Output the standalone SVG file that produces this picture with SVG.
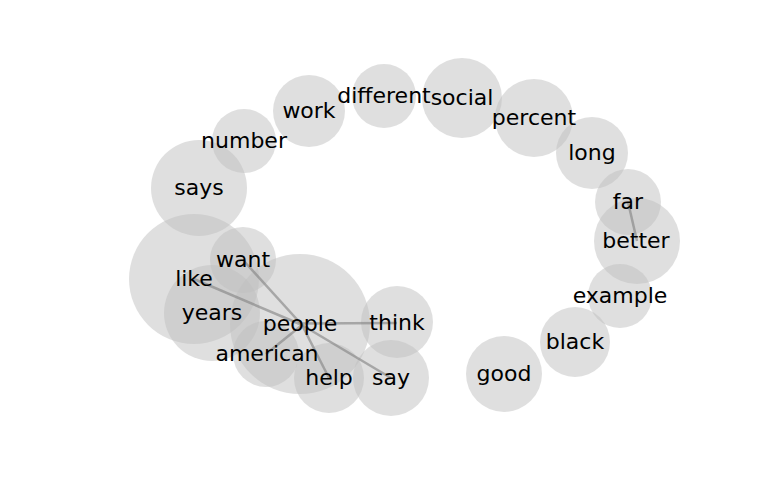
<svg xmlns="http://www.w3.org/2000/svg" width="768" height="500" viewBox="0 0 768 500">
<style>
.node circle{fill:#bfbfbf;fill-opacity:0.5;stroke:none}
.edge{stroke:#808080;stroke-opacity:0.6;stroke-width:2.5;fill:none}
.label{font-family:"DejaVu Sans",sans-serif;font-size:22px;fill:#000;text-anchor:middle;dominant-baseline:central}
</style>
<rect width="768" height="500" fill="#fff"/>
<g id="nodes">
<g id="node-like" class="node"><circle cx="194" cy="279" r="65"/></g>
<g id="node-says" class="node"><circle cx="199" cy="188" r="48"/></g>
<g id="node-number" class="node"><circle cx="244" cy="141" r="32"/></g>
<g id="node-work" class="node"><circle cx="309" cy="111" r="36"/></g>
<g id="node-different" class="node"><circle cx="384" cy="96" r="32"/></g>
<g id="node-social" class="node"><circle cx="462" cy="98" r="40"/></g>
<g id="node-percent" class="node"><circle cx="534" cy="118" r="39"/></g>
<g id="node-long" class="node"><circle cx="592" cy="153" r="36"/></g>
<g id="node-far" class="node"><circle cx="628" cy="202" r="33"/></g>
<g id="node-better" class="node"><circle cx="637" cy="241" r="43"/></g>
<g id="node-example" class="node"><circle cx="620" cy="296" r="32"/></g>
<g id="node-black" class="node"><circle cx="575" cy="342" r="35"/></g>
<g id="node-good" class="node"><circle cx="504" cy="374" r="38"/></g>
<g id="node-years" class="node"><circle cx="212" cy="313" r="48"/></g>
<g id="node-want" class="node"><circle cx="243" cy="260" r="33"/></g>
<g id="node-people" class="node"><circle cx="300" cy="324" r="70"/></g>
<g id="node-american" class="node"><circle cx="266" cy="354" r="33"/></g>
<g id="node-think" class="node"><circle cx="397" cy="322" r="36"/></g>
<g id="node-help" class="node"><circle cx="329" cy="378" r="35"/></g>
<g id="node-say" class="node"><circle cx="391" cy="378" r="38"/></g>
</g>
<g id="connectors">
<line class="edge" x1="302" y1="325" x2="194" y2="279"/>
<line class="edge" x1="302" y1="325" x2="243" y2="260"/>
<line class="edge" x1="302" y1="323.5" x2="397" y2="323"/>
<line class="edge" x1="302" y1="325" x2="266" y2="354"/>
<line class="edge" x1="302" y1="325" x2="329" y2="378"/>
<line class="edge" x1="302" y1="325" x2="391" y2="378"/>
<line class="edge" x1="628" y1="202" x2="637" y2="241"/>
</g>
<g id="labels">
<text class="label" x="199" y="187">says</text>
<text class="label" x="244" y="140">number</text>
<text class="label" x="309" y="110">work</text>
<text class="label" x="384" y="95">different</text>
<text class="label" x="462" y="97">social</text>
<text class="label" x="534" y="117">percent</text>
<text class="label" x="592" y="152">long</text>
<text class="label" x="628" y="201">far</text>
<text class="label" x="636" y="240">better</text>
<text class="label" x="620" y="295">example</text>
<text class="label" x="575" y="341">black</text>
<text class="label" x="504" y="373">good</text>
<text class="label" x="391" y="377">say</text>
<text class="label" x="329" y="377">help</text>
<text class="label" x="397" y="322">think</text>
<text class="label" x="300" y="323">people</text>
<text class="label" x="267" y="353">american</text>
<text class="label" x="212" y="312">years</text>
<text class="label" x="194" y="278">like</text>
<text class="label" x="243" y="259">want</text>
</g>
</svg>
